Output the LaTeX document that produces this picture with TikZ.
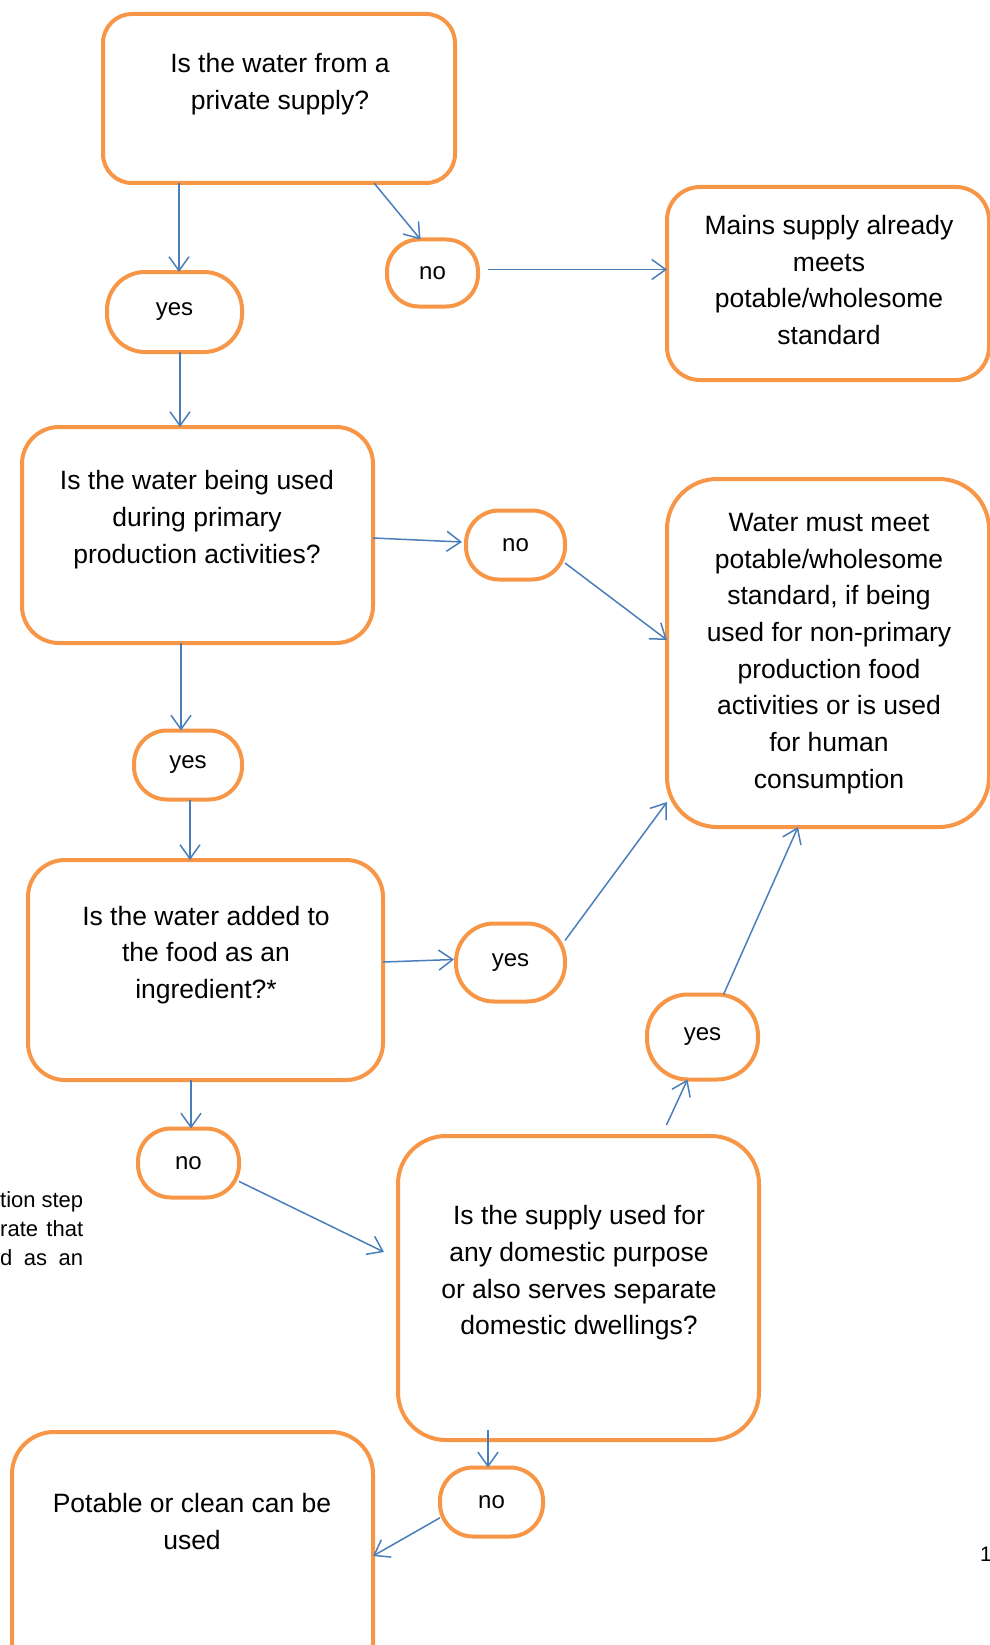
\documentclass[tikz,border=0pt]{standalone}
\usepackage{fontspec}
\setmainfont{Liberation Sans}
\usetikzlibrary{arrows.meta}
\definecolor{boxorange}{HTML}{F79646}
\definecolor{arrblue}{HTML}{4A7EBB}
\tikzset{
  box/.style={draw=boxorange, line width=4pt, rectangle, inner sep=0pt, outer sep=0pt},
  oval/.style={draw=boxorange, line width=4pt, rectangle, inner sep=0pt, outer sep=0pt,
    font=\fontsize{24}{28}\selectfont},
  txt/.style={align=center, inner sep=0pt, font=\fontsize{26.5}{36.7}\selectfont},
  side/.style={inner sep=0pt, font=\fontsize{22}{29}\selectfont},
  arr/.style={draw=arrblue, line width=1.5pt, -{Straight Barb[length=14pt,width=20pt]}}
}
\begin{document}
\begin{tikzpicture}[x=1pt,y=-1pt]
\useasboundingbox (0,0) rectangle (989,1645);

% boxes
\node[box, rounded corners=29pt, minimum width=352pt, minimum height=169pt] (b1) at (279,98.5) {};
\node[txt] (t1) at (280,84.5) {Is the water from a\\private supply?};

\node[box, rounded corners=33pt, minimum width=322pt, minimum height=193pt] (b2) at (828,283.5) {};
\node[txt] (t2) at (829,280) {Mains supply already\\meets\\potable/wholesome\\standard};

\node[box, rounded corners=37pt, minimum width=351pt, minimum height=216pt] (b3) at (197.5,535) {};
\node[txt] (t3) at (197,519.5) {Is the water being used\\during primary\\production activities?};

\node[box, rounded corners=50pt, minimum width=322pt, minimum height=348pt] (b4) at (828,653) {};
\node[txt] (t4) at (829,653.5) {Water must meet\\potable/wholesome\\standard, if being\\used for non-primary\\production food\\activities or is used\\for human\\consumption};

\node[box, rounded corners=37pt, minimum width=355pt, minimum height=220pt] (b5) at (205.5,970) {};
\node[txt] (t5) at (206,955) {Is the water added to\\the food as an\\ingredient?*};

\node[box, rounded corners=48pt, minimum width=361pt, minimum height=304pt] (b6) at (578.5,1288) {};
\node[txt] (t6) at (579,1273) {Is the supply used for\\any domestic purpose\\or also serves separate\\domestic dwellings?};

\node[box, rounded corners=42pt, minimum width=361pt, minimum height=256pt] (b7) at (192.5,1560) {};
\node[txt] (t7) at (192,1521.5) {Potable or clean can be\\used};

% ovals
\node[oval, rounded corners=38pt, minimum width=135pt, minimum height=80pt] (yes1) at (174.5,312) {yes};
\node[oval, rounded corners=32pt, minimum width=91pt, minimum height=67pt] (no1) at (432.5,273) {no};
\node[oval, rounded corners=33pt, minimum width=99pt, minimum height=69pt] (no2) at (515.5,545) {no};
\node[oval, rounded corners=33pt, minimum width=108pt, minimum height=69pt] (yes2) at (188,765) {yes};
\node[oval, rounded corners=38pt, minimum width=109pt, minimum height=78pt] (yes3) at (510.5,962.5) {yes};
\node[oval, rounded corners=41pt, minimum width=111pt, minimum height=85pt] (yes4) at (702.5,1037) {yes};
\node[oval, rounded corners=33pt, minimum width=101pt, minimum height=69pt] (no3) at (188.5,1163) {no};
\node[oval, rounded corners=33pt, minimum width=103pt, minimum height=69pt] (no4) at (491.5,1502) {no};

% clipped side texts
\node[side, anchor=base west] (f1) at (0,1207) {\makebox[83pt][s]{tion step}};
\node[side, anchor=base west] (f2) at (0,1236) {\makebox[83pt][s]{rate that}};
\node[side, anchor=base west] (f3) at (0,1265) {\makebox[83pt][s]{d as an}};
\node[side, anchor=base west, font=\fontsize{21}{25}\selectfont] (pg) at (980,1561) {1};

% connectors
\draw[arr] ([xshift=4.5pt]b1.south -| yes1.north) -- ([xshift=4.5pt]yes1.north);
\draw[arr] ([xshift=95pt]b1.south) -- ([xshift=-12pt]no1.north);
\draw[arr] ([xshift=10pt,yshift=3.5pt]no1.east) -- ([yshift=3.5pt]no1.east -| b2.west);
\draw[arr] ([xshift=5.5pt]yes1.south) -- ([xshift=5.5pt]yes1.south |- b3.north);
\draw[arr] ([yshift=-3pt]b3.east) -- ([xshift=-4pt,yshift=3pt]no2.west);
\draw[arr] (no2.-20) -- ([yshift=13pt]b4.west);
\draw[arr] ([xshift=-7pt]yes2.north |- b3.south) -- ([xshift=-7pt]yes2.north);
\draw[arr] ([xshift=2pt]yes2.south) -- ([xshift=2pt]yes2.south |- b5.north);
\draw[arr] ([yshift=8pt]b5.east) -- ([xshift=-2pt,yshift=3pt]yes3.west);
\draw[arr] (yes3.22) -- ([yshift=-149pt]b4.west);
\draw[arr] ([xshift=21pt]yes4.north) -- ([xshift=-30pt]b4.south);
\draw[arr] ([xshift=88pt,yshift=11pt]b6.north) -- ([xshift=-15pt]yes4.south);
\draw[arr] ([xshift=2.5pt]no3.north |- b5.south) -- ([xshift=2.5pt]no3.north);
\draw[arr] (no3.-20) -- ([xshift=-14pt,yshift=36pt]b6.west);
\draw[arr] ([xshift=-3.5pt,yshift=10pt]no4.north |- b6.south) -- ([xshift=-3.5pt]no4.north);
\draw[arr] (no4.197) -- ([yshift=4pt]b7.east);
\end{tikzpicture}
\end{document}
